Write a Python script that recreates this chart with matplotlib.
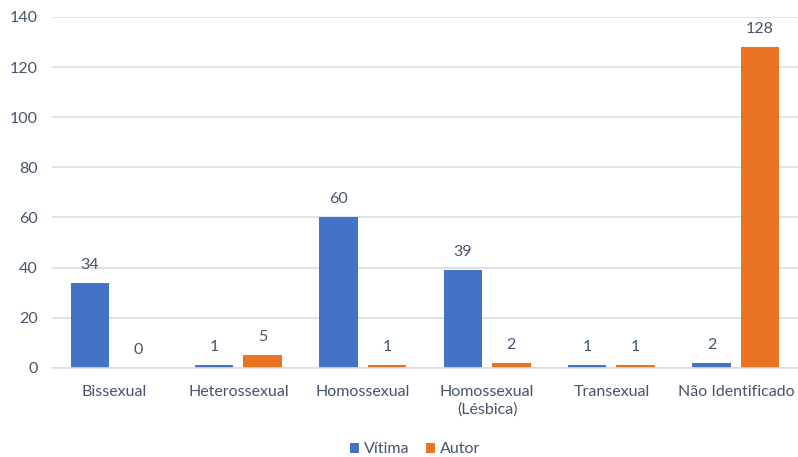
import matplotlib.pyplot as plt
import numpy as np

plt.rcParams['font.family'] = ['Lato', 'DejaVu Sans']

categorias = ["Bissexual", "Heterossexual", "Homossexual", "Homossexual\n(Lésbica)",
              "Transexual", "Não Identificado"]
vitima = [34, 1, 60, 39, 1, 2]
autor = [0, 5, 1, 2, 1, 128]

azul = '#4472C4'
laranja = '#E97320'
cor_texto = '#44546A'

fig = plt.figure(figsize=(7.98, 4.57), dpi=100)
ax = fig.add_axes([0.065, 0.195, 0.935, 0.768])

x = np.arange(len(categorias))
w = 0.31
b1 = ax.bar(x - 0.195, vitima, w, color=azul, label='Vítima')
b2 = ax.bar(x + 0.195, autor, w, color=laranja, label='Autor')

for barras in (b1, b2):
    ax.bar_label(barras, padding=8, fontsize=11.5, color=cor_texto)

ax.set_xlim(-0.5, 5.5)
ax.set_ylim(0, 140)
ax.set_yticks(range(0, 141, 20))
ax.set_xticks(x)
ax.set_xticklabels(categorias, fontsize=11.5, color=cor_texto, va='top', linespacing=1.35)
ax.tick_params(axis='y', labelsize=11.5, labelcolor=cor_texto, length=0, pad=10)
ax.tick_params(axis='x', length=0, pad=12)
ax.grid(axis='y', color='#D9DDE3', linewidth=1.2)
ax.set_axisbelow(True)
for s in ['top', 'right', 'left']:
    ax.spines[s].set_visible(False)
ax.spines['bottom'].set_color('#D9DDE3')
ax.spines['bottom'].set_linewidth(1.2)

fig.legend(loc='lower center', bbox_to_anchor=(0.52, -0.03), ncol=2, frameon=False,
           fontsize=11.5, labelcolor=cor_texto, handlelength=0.6, handleheight=0.6,
           handletextpad=0.3, columnspacing=1.0)

fig.savefig('out.png', dpi=100)
